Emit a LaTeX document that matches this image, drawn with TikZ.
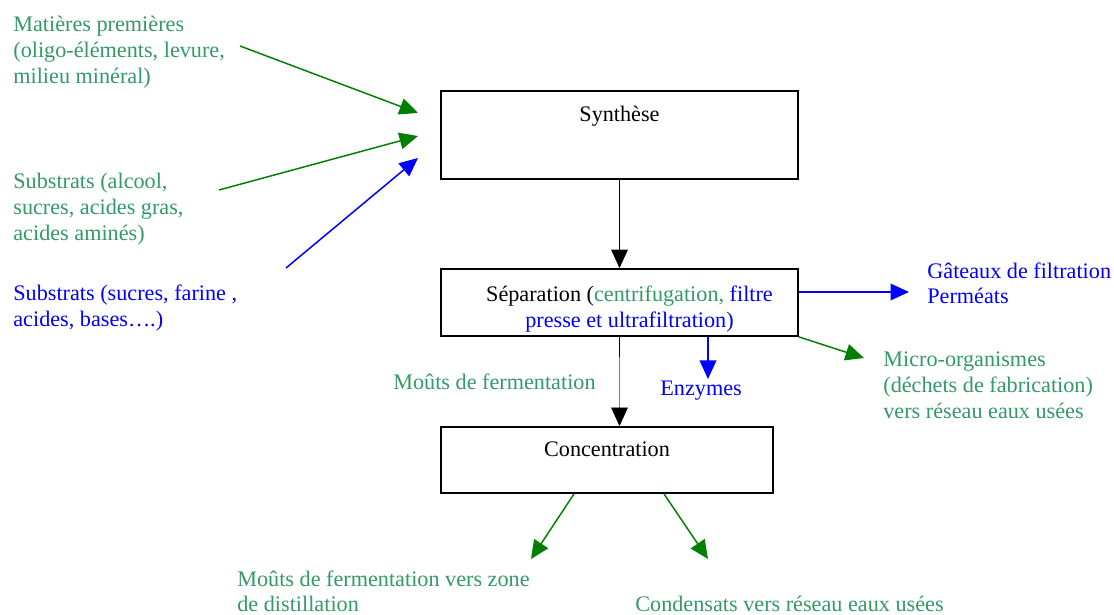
\documentclass[tikz,border=0pt]{standalone}
\usepackage{fontspec}
\setmainfont{Liberation Serif}
\usetikzlibrary{arrows.meta,calc,fit}
\definecolor{txtgreen}{HTML}{339966}
\definecolor{arrgreen}{HTML}{008000}
\definecolor{arrblue}{HTML}{0000FF}
\tikzset{
  procbox/.style={draw,line width=1pt,inner sep=0pt},
  lbl/.style={anchor=north west,inner sep=0pt,align=left},
  flow/.style={line width=0.8pt,-{Triangle[length=10pt,width=9pt]}},
}
\begin{document}
\begin{tikzpicture}[x=0.019cm,y=-0.019cm,font=\fontsize{12}{14.05}\selectfont]
    \useasboundingbox (0,0) rectangle (1114,615);
    % etapes du procede
    \node[procbox,fit={(441,91) (798,179)}] (syn) {};
    \node[procbox,fit={(441,269) (798,336)}] (sep) {};
    \node[procbox,fit={(441,427) (773,493)}] (con) {};
    \node[anchor=north,inner sep=0pt] (synt) at ($(syn.north)+(0,16)$) {Synthèse};
    \node[anchor=north,inner sep=0pt,align=center] (sept) at ($(sep.north)+(10,17)$)
        {Séparation (\textcolor{txtgreen}{centrifugation,}\ \textcolor{arrblue}{filtre}\\
         \textcolor{arrblue}{presse et ultrafiltration)}};
    \node[anchor=north,inner sep=0pt] (cont) at ($(con.north)+(0,15)$) {Concentration};
    % entrees
    \node[lbl,txtgreen] (mat) at (13,16) {Matières premières\\(oligo-éléments, levure,\\milieu minéral)};
    \node[lbl,txtgreen] (suba) at (13,173) {Substrats (alcool,\\sucres, acides gras,\\acides aminés)};
    \node[lbl,arrblue] (subb) at (13,285) {Substrats (sucres, farine ,\\acides, bases….)};
    \coordinate (matout) at (240,46);
    \coordinate (subaout) at (219,190);
    \coordinate (subbout) at (286,268);
    \coordinate (synin1) at (418,113);
    \coordinate (synin2) at (418,136);
    \coordinate (synin3) at (418,158);
    \draw[flow,arrgreen] (matout) -- (synin1);
    \draw[flow,arrgreen] (subaout) -- (synin2);
    \draw[flow,arrblue] (subbout) -- (synin3);
    % sorties
    \node[lbl,arrblue] (gat) at (927,262) {Gâteaux de filtration\\Perméats};
    \node[lbl,txtgreen] (mic) at (883,351) {Micro-organismes\\(déchets de fabrication)\\vers réseau eaux usées};
    \node[lbl,txtgreen] (mts) at (393,373) {Moûts de fermentation};
    \node[lbl,arrblue] (enz) at (660,381) {Enzymes};
    \node[lbl,txtgreen] (mtz) at (237,570) {Moûts de fermentation vers zone\\de distillation};
    \node[lbl,txtgreen] (cds) at (635,596) {Condensats vers réseau eaux usées};
    \coordinate (gatin) at (909,292);
    \coordinate (micin) at (864,358);
    \coordinate (enzin) at (708,379);
    \coordinate (mtzin) at (531,559);
    \coordinate (cdsin) at (708,559);
    \draw[flow] (syn.south) -- (sep.north);
    \draw[line width=1pt] (sep.south) -- ++(0,20) coordinate (sepstub);
    \draw[gray,line width=0.4pt,-{Triangle[length=10pt,width=9pt,black]}] (sepstub) -- (sep.south |- con.north);
    \draw[flow,arrblue] (sep.east |- gatin) -- (gatin);
    \draw[flow,arrgreen] (sep.south east) -- (micin);
    \draw[flow,arrblue] (sep.south -| enzin) -- (enzin);
    \draw[flow,arrgreen] ($(con.south)+(-33,0)$) -- (mtzin);
    \draw[flow,arrgreen] ($(con.south)+(57,0)$) -- (cdsin);
\end{tikzpicture}
\end{document}
